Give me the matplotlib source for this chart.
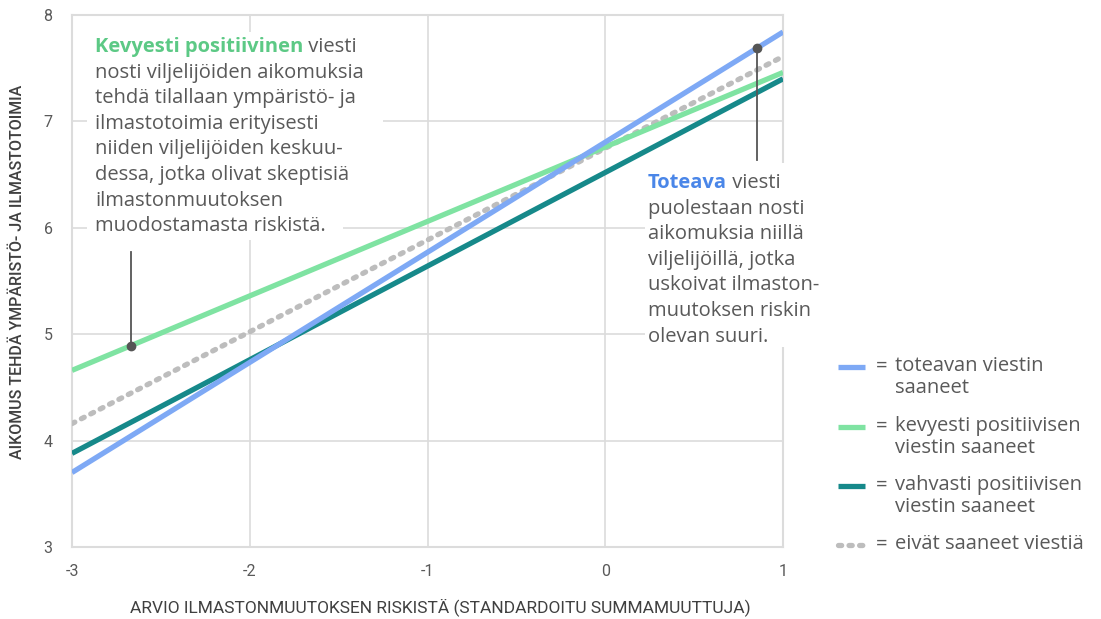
import numpy as np
import matplotlib
matplotlib.use("Agg")
import matplotlib.pyplot as plt
from matplotlib.lines import Line2D
from matplotlib.patches import Rectangle

# ---- data ----
x_ends = [-3, 1]
toteava = [3.70, 7.84]
kevyesti = [4.66, 7.46]
vahvasti = [3.88, 7.40]
eivat = [4.16, 7.61]

series_labels = ["toteavan viestin\nsaaneet",
                 "kevyesti positiivisen\nviestin saaneet",
                 "vahvasti positiivisen\nviestin saaneet",
                 "eivät saaneet viestiä"]
x_ticks = [-3, -2, -1, 0, 1]
y_ticks = [3, 4, 5, 6, 7, 8]
x_label = "ARVIO ILMASTONMUUTOKSEN RISKISTÄ (STANDARDOITU SUMMAMUUTTUJA)"
y_label = "AIKOMUS TEHDÄ YMPÄRISTÖ- JA ILMASTOTOIMIA"

ann_left_x = -2.67
ann_right_x = 0.854

c_blue = "#7EA9F5"
c_green = "#7FE3A2"
c_teal = "#16898A"
c_gray = "#BDBDBD"
txt = "#595959"

W, H = 1101, 619
fig = plt.figure(figsize=(W / 100, H / 100), dpi=100)
ax = fig.add_axes([72 / W, 1 - 547 / H, (783 - 72) / W, (547 - 15) / H])

def fx(px):
    return px / W

def fy(py):
    return 1 - py / H

ax.set_xlim(-3, 1)
ax.set_ylim(3, 8)
ax.set_xticks(x_ticks)
ax.set_yticks(y_ticks)
ax.set_xticklabels([str(v) for v in x_ticks])
ax.set_yticklabels([str(v) for v in y_ticks])
ax.grid(True, color="#DCDCDC", linewidth=1.2)
ax.set_axisbelow(True)
for s in ax.spines.values():
    s.set_color("#DCDCDC")
    s.set_linewidth(1.5)
ax.tick_params(axis="y", length=0, labelsize=11.5, labelcolor=txt, pad=14)
ax.tick_params(axis="x", length=0, labelsize=11.5, labelcolor=txt, pad=12)
for lab in ax.get_xticklabels() + ax.get_yticklabels():
    lab.set_fontfamily("Roboto")

lw = 3.8
ax.plot(x_ends, eivat, color=c_gray, lw=lw, linestyle=(0, (0.6, 1.4)),
        dash_capstyle="round", solid_capstyle="butt", zorder=3)
ax.plot(x_ends, vahvasti, color=c_teal, lw=lw, solid_capstyle="butt", zorder=3)
ax.plot(x_ends, kevyesti, color=c_green, lw=lw, solid_capstyle="butt", zorder=3)
ax.plot(x_ends, toteava, color=c_blue, lw=lw, solid_capstyle="butt", zorder=3)

fig.text(fx(440), fy(607), x_label, ha="center", va="center",
         fontsize=12.5, color="#404040", family="Roboto")
fig.text(fx(18), fy(272), y_label, rotation=90, ha="center", va="center",
         fontsize=11.5, color="#404040", family="Roboto", fontweight="medium")

# annotation pointers
yl = np.interp(ann_left_x, x_ends, kevyesti)
ax.plot([ann_left_x, ann_left_x], [yl, 5.77], color="#555555", lw=1.3, zorder=7, clip_on=False)
ax.plot([ann_left_x], [yl], "o", color="#555555", ms=6, zorder=8, clip_on=False)
yr = np.interp(ann_right_x, x_ends, toteava)
ax.plot([ann_right_x, ann_right_x], [yr, 6.64], color="#555555", lw=1.3, zorder=7, clip_on=False)
ax.plot([ann_right_x], [yr], "o", color="#555555", ms=6, zorder=8, clip_on=False)

# annotation boxes
def white_box(x0, y0, x1, y1):
    fig.add_artist(Rectangle((fx(x0), fy(y1)), (x1 - x0) / W, (y1 - y0) / H,
                             transform=fig.transFigure, facecolor="white",
                             edgecolor="none", zorder=5))

white_box(87, 32, 383, 175)
white_box(87, 175, 343, 240)
white_box(645, 163, 840, 347)

afs = 14.5
afam = "Open Sans"
left_lines = ["nosti viljelijöiden aikomuksia",
              "tehdä tilallaan ympäristö- ja",
              "ilmastotoimia erityisesti",
              "niiden viljelijöiden keskuu-",
              "dessa, jotka olivat skeptisiä",
              "ilmastonmuutoksen",
              "muodostamasta riskistä."]
right_lines = ["puolestaan nosti",
               "aikomuksia niillä",
               "viljelijöillä, jotka",
               "uskoivat ilmaston-",
               "muutoksen riskin",
               "olevan suuri."]
step = 25.6
t1 = fig.text(fx(95), fy(47), "Kevyesti positiivinen", color="#5CC985", fontsize=afs,
              family=afam, fontweight="bold", va="center", ha="left", zorder=6)
fig.canvas.draw()
bb = t1.get_window_extent()
fig.text(bb.x1 / W, fy(47), " viesti", color=txt, fontsize=afs, family=afam,
         va="center", ha="left", zorder=6)
for i, l in enumerate(left_lines):
    fig.text(fx(95), fy(47 + step * (i + 1)), l, color=txt, fontsize=afs, family=afam,
             va="center", ha="left", zorder=6)

t2 = fig.text(fx(648), fy(183), "Toteava", color="#4A86E8", fontsize=afs,
              family=afam, fontweight="bold", va="center", ha="left", zorder=6)
fig.canvas.draw()
bb = t2.get_window_extent()
fig.text(bb.x1 / W, fy(183), " viesti", color=txt, fontsize=afs, family=afam,
         va="center", ha="left", zorder=6)
for i, l in enumerate(right_lines):
    fig.text(fx(648), fy(183 + step * (i + 1)), l, color=txt, fontsize=afs, family=afam,
             va="center", ha="left", zorder=6)

# legend
leg_colors = [c_blue, c_green, c_teal, c_gray]
leg_y = [367, 427, 486, 545]
for lab, col, y in zip(series_labels, leg_colors, leg_y):
    if col == c_gray:
        fig.add_artist(Line2D([fx(838), fx(863)], [fy(y), fy(y)], color=col, lw=lw,
                              linestyle=(0, (0.6, 1.4)), dash_capstyle="round",
                              transform=fig.transFigure))
    else:
        fig.add_artist(Line2D([fx(838), fx(865)], [fy(y), fy(y)], color=col, lw=lw,
                              solid_capstyle="butt", transform=fig.transFigure))
    fig.text(fx(876), fy(y), "=", color=txt, fontsize=afs, family=afam, va="center", ha="left")
    fig.text(fx(895), fy(y) + 11 / H, lab, color=txt, fontsize=afs, family=afam,
             va="top", ha="left", linespacing=1.12)

fig.savefig("out.png", dpi=100)
